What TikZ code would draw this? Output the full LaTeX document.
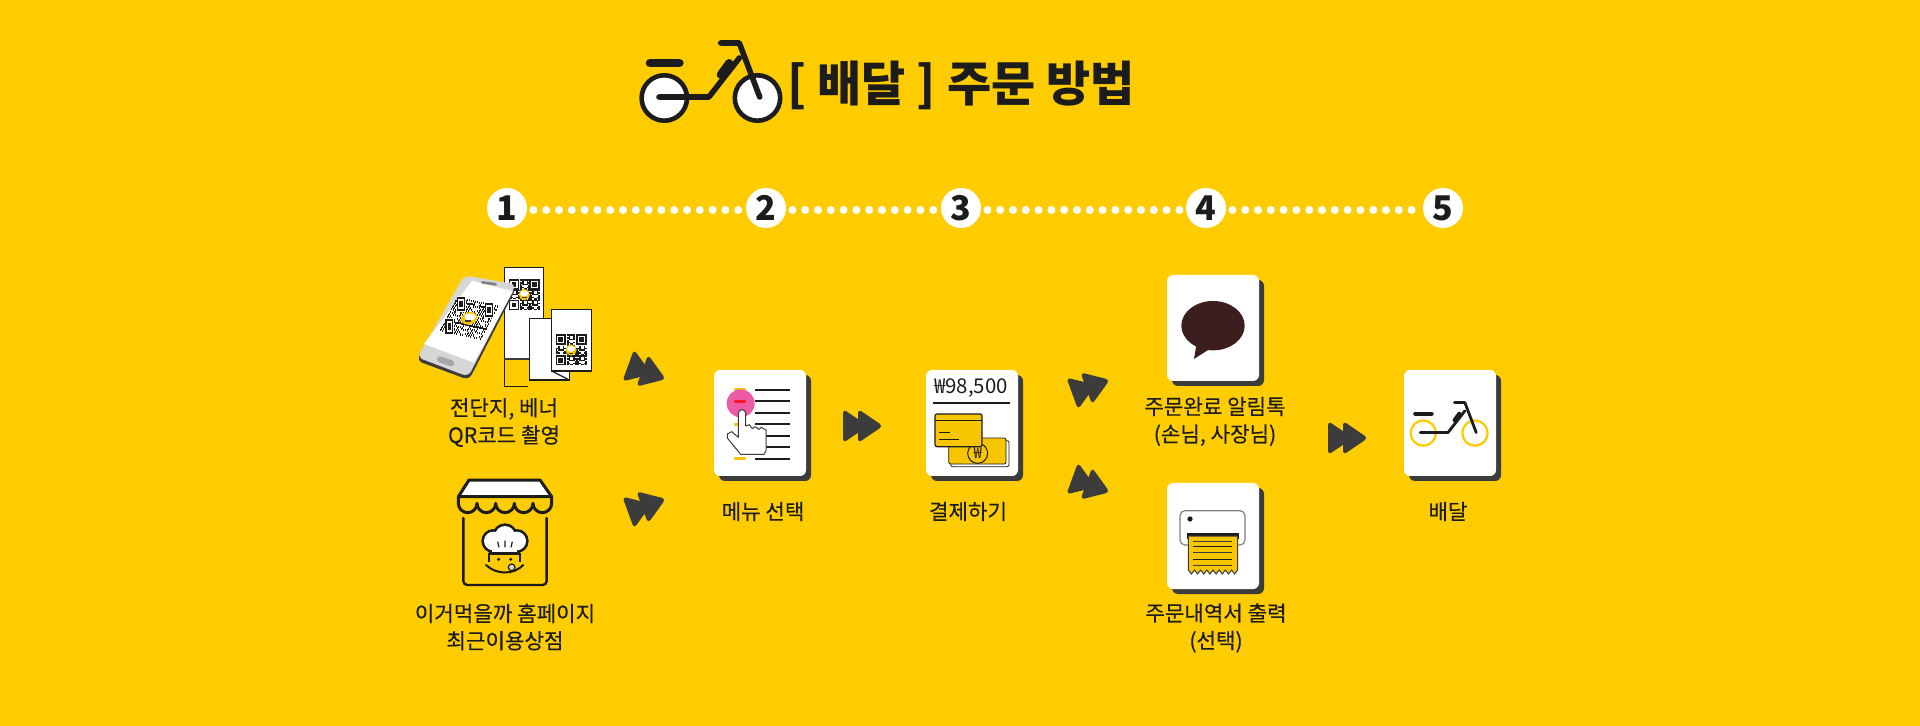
\documentclass[tikz,border=0pt]{standalone}
\usepackage{fontspec}
\setmainfont{Noto Sans CJK KR}
\newfontfamily\labelfont{Noto Sans CJK KR}[FakeBold=.25]
\usetikzlibrary{shadows}
\definecolor{bgyellow}{HTML}{FFCC00}
\definecolor{ink}{HTML}{1C1C1C}
\definecolor{slate}{HTML}{3C3C3C}
\definecolor{cardyellow}{HTML}{F7C600}
\definecolor{talk}{HTML}{3C1E1E}
\definecolor{phonegray}{HTML}{D6D6D6}
\definecolor{pink}{HTML}{EE5AA4}
\tikzset{
  stepdot/.style={circle,fill=white,minimum size=20pt,inner sep=0pt,text=ink,font=\fontsize{17}{17}\selectfont\bfseries},
  dotline/.style={draw=white,line width=4pt,line cap=round,dash pattern=on 0pt off 6.4pt,shorten <=3pt,transform canvas={yshift=-1pt}},
  steptext/.style={text=ink,align=center,inner sep=0pt,font=\fontsize{10.6}{13.7}\labelfont},
  titletext/.style={text=ink,inner sep=0pt,font=\fontsize{24}{24}\selectfont\bfseries},
  card/.style={fill=white,rounded corners=3pt,minimum width=46pt,minimum height=53pt,inner sep=0pt,
    general shadow={fill=slate,shadow xshift=2.5pt,shadow yshift=-2.5pt}},
  icon/.style={x=.16667pt,y=-.16667pt},
  pics/ffarrow/.style={code={
    \fill[slate,rounded corners=2pt] (-19,-17) -- (6,0) -- (-19,17) -- cycle;
    \fill[slate,rounded corners=2pt] (-4,-17) -- (21,0) -- (-4,17) -- cycle;
  }},
  pics/bike/.style n args={3}{code={
    \draw[draw=#1,fill=#2,line width=#3*2.3pt] (-46.4,20) circle (22.7) (46.8,20) circle (22.7);
    \draw[ink,line width=#3*2.8pt,line cap=round,line join=round] (-51.7,19) -- (-1.8,19) -- (28.6,-20);
    \draw[ink,line width=#3*2.8pt,line cap=round,line join=round] (10,-35) -- (28.6,-35) -- (49,19);
    \draw[ink,line width=#3*4.3pt,line cap=round] (-60.7,-15) -- (-31.4,-15);
    \draw[ink,line width=#3*4pt,line cap=round] (10,-3.3) -- (18.5,-15);
  }},
  pics/qrcode/.style={code={
    \foreach \i in {0,...,20} \foreach \j in {0,...,20} {
      \pgfmathtruncatemacro\qrbit{mod(\i*\i*\j+7*\i+3*\j*\j+\j,7)<4 ? 1 : 0}
      \ifnum\qrbit=1 \fill[ink] (\i-10.5,\j-10.5) rectangle ++(1,1); \fi
    }
    \foreach \fx/\fy in {-7/-7,7/-7,-7/7} {
      \fill[white] (\fx-4,\fy-4) rectangle (\fx+4,\fy+4);
      \fill[ink] (\fx-3.5,\fy-3.5) rectangle (\fx+3.5,\fy+3.5);
      \fill[white] (\fx-2.5,\fy-2.5) rectangle (\fx+2.5,\fy+2.5);
      \fill[ink] (\fx-1.5,\fy-1.5) rectangle (\fx+1.5,\fy+1.5);
    }
    \fill[cardyellow] (0,0) circle (3.8);
    \fill[white] (0,-.8) circle[x radius=2.8,y radius=2];
    \fill[slate] (-1.6,1.7) rectangle (1.6,2);
  }},
}

\begin{document}
\begin{tikzpicture}[x=.5pt,y=-.5pt]
\fill[bgyellow] (0,0) rectangle (1920,726);
\useasboundingbox (0,0) rectangle (1920,726);

\pic at (710.7,78) {bike={ink}{white}{1}};
\node[titletext] (title) at (961,85) {[ 배달 ] 주문 방법};

\foreach \n/\x in {1/507,2/766,3/961,4/1206,5/1443}
  \node[stepdot] (n\n) at (\x,208) {\n};
\foreach \a/\b in {n1/n2,n2/n3,n3/n4,n4/n5}
  \draw[dotline] (\a) -- (\b);

\begin{scope}[shift={(400,170)},icon]
\draw[ink,line width=.6pt] (385,650) -- (313,650) -- (313,293) -- (430,293) -- (430,567);
\fill[white] (313.5,293.5) rectangle (430,565);
\draw[ink,line width=.6pt] (313,567) -- (313,293) -- (430,293) -- (430,445);
\draw[slate,line width=.9pt] (313,567) -- (388,567);
\draw[ink,line width=.6pt,fill=white] (388,445) rectangle (508,630);
\draw[ink,line width=.6pt,fill=white] (455,418) rectangle (575,603);
\draw[ink,line width=.6pt] (455,603) -- (508,630);
\end{scope}
\coordinate (qrflyer) at (524.3,294.7);
\coordinate (qrpaper) at (571,350);
\coordinate (qrphone) at (469.3,318.3);
\pic[scale=1.476] at (qrflyer) {qrcode};
\pic[scale=1.476] at (qrpaper) {qrcode};

\begin{scope}[shift={(400,170)},icon]
\fill[slate,rounded corners=3pt] (193,322) -- (350,351) -- (207,630) -- (50,572) -- cycle;
\fill[phonegray,rounded corners=3pt] (193,316) -- (348,343) -- (205,620) -- (52,562) -- cycle;
\fill[white] (216,332) -- (339,364) -- (222,578) -- (72,522) -- cycle;
\draw[gray,line width=1.3pt,line cap=round] (247,337) -- (287,343);
\draw[gray!70,line width=3pt,line cap=round] (120,568) -- (154,580);
\end{scope}
\pic[x={(1pt,-.22pt)},y={(-.42pt,-.81pt)}] at (qrphone) {qrcode};

\begin{scope}[shift={(400,460)},icon]
\draw[ink,line width=1.5pt,fill=white,line join=round] (207,60) -- (420,60) -- (455,110) -- (175,110) -- cycle;
\draw[ink,line width=1.5pt,line join=round,line cap=round] (175,110) -- (175,130)
  arc[start angle=180,end angle=0,radius=28] arc[start angle=180,end angle=0,radius=28]
  arc[start angle=180,end angle=0,radius=28] arc[start angle=180,end angle=0,radius=28]
  arc[start angle=180,end angle=0,radius=28] -- (455,110);
\draw[ink,line width=1.2pt,rounded corners=2pt,line cap=round] (190,174) -- (190,375) -- (440,375) -- (440,174);
\fill[ink] (280,243) circle (36) (315,228) circle (38) (350,243) circle (36);
\fill[ink] (268,240) rectangle (360,285);
\fill[white] (280,243) circle (28) (315,228) circle (30) (350,243) circle (28);
\fill[white] (276,240) rectangle (352,277);
\draw[ink,line width=.9pt] (268,305) -- (268,282) -- (360,282) -- (360,305);
\draw[ink,line width=.6pt] (293,245) -- (297,262) (315,242) -- (315,262) (337,245) -- (333,262);
\fill[ink] (296,298) circle (5) (332,298) circle (5);
\draw[ink,line width=1pt,line cap=round] (258,315) .. controls (290,345) and (340,345) .. (370,315);
\draw[ink,line width=.6pt,fill=phonegray] (335,322) circle (10);
\end{scope}

\node[card] (menu) at (760,423) {};
\begin{scope}[shift={(690,350)},icon]
\foreach \y in {119,154,188,223,257,292,326}
  \draw[ink,line width=1pt] (195,\y) -- (300,\y);
\foreach \y in {119,223,292,326}
  \draw[cardyellow,line width=1.2pt,line cap=round] (135,\y) -- (165,\y);
\fill[pink] (152,160) circle (42);
\draw[red!75!pink,line width=1.2pt,line cap=round] (135,154) -- (165,154);
\draw[slate,line width=.5pt,fill=white,line join=round] (145,262) -- (145,190)
  arc[start angle=180,end angle=360,radius=11] -- (167,228) -- (178,224) -- (187,236) -- (195,230) -- (207,238) -- (214,232) -- (228,240)
  -- (228,302) -- (222,313) -- (152,313) -- (112,264) -- (112,252) -- (125,245) -- cycle;
\end{scope}

\node[card] (pay) at (972,423) {};
\node[text=ink,inner sep=0pt,font=\fontsize{10.2}{10.2}\selectfont] (price) at (971,388.5) {₩98,500};
\begin{scope}[shift={(690,350)},icon]
\draw[ink,line width=1pt] (730,160) -- (960,160);
\draw[ink,line width=.4pt,fill=white,rounded corners=1pt] (782,272) rectangle (957,350);
\draw[ink,line width=.4pt,fill=cardyellow,rounded corners=1pt] (776,264) rectangle (948,342);
\draw[ink,line width=.5pt] (863,310) circle (30);
\node[text=ink,inner sep=0pt,font=\fontsize{7.5}{7.5}\selectfont] (won) at (863,310) {₩};
\draw[ink,line width=.6pt,fill=cardyellow,rounded corners=1pt] (735,192) rectangle (876,290);
\draw[ink,line width=.8pt] (735,212) -- (876,212);
\draw[ink,line width=.5pt] (748,248) -- (780,248) (748,268) -- (808,268);
\end{scope}

\node[card] (talkcard) at (1213,328) {};
\begin{scope}[shift={(1040,260)},icon]
\fill[talk] (519,197) circle[x radius=95,y radius=74];
\fill[talk] (470,250) -- (462,297) -- (512,265) -- cycle;
\end{scope}

\node[card] (print) at (1213,536) {};
\begin{scope}[shift={(1040,460)},icon]
\draw[gray,line width=.6pt,rounded corners=2.5pt] (420,152) rectangle (615,255);
\fill[ink] (450,177) circle (8);
\fill[ink] (440,220) rectangle (597,236);
\draw[slate,line width=.5pt,fill=cardyellow] (445,228) -- (445,330)
  \foreach \k in {1,...,8} { -- ++(9.25,12) -- ++(9.25,-12) } -- (593,228) -- cycle;
\foreach \y/\c in {243/slate,259/ink,276/slate,298/ink,315/slate}
  \draw[\c,line width=.5pt] (460,\y) -- (577,\y);
\end{scope}

\node[card] (ride) at (1450,423) {};
\pic[scale=.555] at (1449,422) {bike={bgyellow}{none}{.5}};

\pic[rotate=-20] at (646,372) {ffarrow};
\pic[rotate=20] at (646,506) {ffarrow};
\pic at (862,426) {ffarrow};
\pic[rotate=20] at (1090,387) {ffarrow};
\pic[rotate=-20] at (1090,485) {ffarrow};
\pic at (1347,438) {ffarrow};

\node[steptext] (qrtext) at (504,422.5) {전단지, 베너\\QR코드 촬영};
\node[steptext] (shoptext) at (505,627) {이거먹을까 홈페이지\\최근이용상점};
\node[steptext] (menutext) at (763,511.5) {메뉴 선택};
\node[steptext] (paytext) at (968,511.5) {결제하기};
\node[steptext] (talktext) at (1215,421.5) {주문완료 알림톡\\(손님, 사장님)};
\node[steptext] (printtext) at (1216,628) {주문내역서 출력\\(선택)};
\node[steptext] (ridetext) at (1448,511.5) {배달};
\end{tikzpicture}
\end{document}
